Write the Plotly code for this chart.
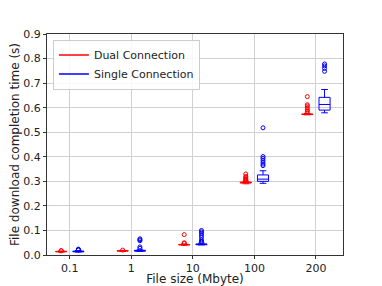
import plotly.graph_objects as go

sizes = ["0.1", "1", "10", "100", "200"]

# Dual Connection box statistics (s)
dual_lo = [0.012, 0.015, 0.040, 0.290, 0.571]
dual_q1 = [0.013, 0.016, 0.041, 0.293, 0.572]
dual_med = [0.014, 0.017, 0.042, 0.295, 0.573]
dual_q3 = [0.015, 0.018, 0.043, 0.297, 0.574]
dual_hi = [0.016, 0.019, 0.045, 0.300, 0.576]
dual_out = [
    [0.017, 0.018],
    [0.020],
    [0.047, 0.050, 0.083],
    [0.302, 0.305, 0.308, 0.311, 0.315, 0.320, 0.330],
    [0.580, 0.586, 0.592, 0.600, 0.607, 0.612, 0.645],
]

# Single Connection box statistics (s)
single_lo = [0.012, 0.015, 0.041, 0.292, 0.579]
single_q1 = [0.013, 0.016, 0.042, 0.300, 0.590]
single_med = [0.014, 0.017, 0.043, 0.309, 0.613]
single_q3 = [0.016, 0.019, 0.045, 0.326, 0.642]
single_hi = [0.018, 0.021, 0.048, 0.343, 0.674]
single_out = [
    [0.020, 0.022, 0.024],
    [0.027, 0.033, 0.058, 0.062, 0.066],
    [0.052, 0.056, 0.062, 0.072, 0.080, 0.088, 0.094, 0.100],
    [0.364, 0.370, 0.378, 0.386, 0.394, 0.401, 0.518],
    [0.748, 0.760, 0.770, 0.778],
]

RED = "#ff0000"
BLUE = "#0000ff"
OFF = 0.14
BW = 0.18

fig = go.Figure()

def add_series(lo, q1, med, q3, hi, outs, color, off, name):
    xs = [i + off for i in range(len(sizes))]
    fig.add_trace(go.Box(
        x=xs, lowerfence=lo, q1=q1, median=med, q3=q3, upperfence=hi,
        width=BW, boxpoints=False, line=dict(color=color, width=1),
        fillcolor="rgba(255,255,255,0)", whiskerwidth=0.6,
        showlegend=False, hoverinfo="skip",
    ))
    ox, oy = [], []
    for i, vals in enumerate(outs):
        for v in vals:
            ox.append(i + off)
            oy.append(v)
    fig.add_trace(go.Scatter(
        x=ox, y=oy, mode="markers",
        marker=dict(symbol="circle-open", size=4, color=color, line=dict(width=1, color=color)),
        showlegend=False, hoverinfo="skip",
    ))
    fig.add_trace(go.Scatter(
        x=[None], y=[None], mode="lines", line=dict(color=color, width=1.5), name=name,
    ))

add_series(dual_lo, dual_q1, dual_med, dual_q3, dual_hi, dual_out, RED, -OFF, "Dual Connection")
add_series(single_lo, single_q1, single_med, single_q3, single_hi, single_out, BLUE, OFF, "Single Connection")

fig.update_layout(
    width=374, height=278,
    margin=dict(l=39, r=39, t=26, b=31, autoexpand=False),
    paper_bgcolor="white", plot_bgcolor="white",
    font=dict(family="DejaVu Sans", size=11, color="#222"),
    showlegend=True,
    legend=dict(
        x=0.02, y=0.975, xanchor="left", yanchor="top",
        bordercolor="#cccccc", borderwidth=1, bgcolor="rgba(255,255,255,0.85)",
        font=dict(size=11), tracegroupgap=0, itemwidth=30,
    ),
)
fig.update_xaxes(
    automargin=True,
    range=[-0.37, 4.44], tickmode="array", tickvals=list(range(len(sizes))), ticktext=sizes,
    showgrid=True, gridcolor="#d0d0d0", gridwidth=1, zeroline=False,
    showline=True, linecolor="#333", linewidth=1, mirror=True,
    ticks="outside", ticklen=3, tickcolor="#333", tickfont=dict(size=11),
    title=dict(text="File size (Mbyte)", font=dict(size=12), standoff=3),
)
fig.update_yaxes(
    automargin=True,
    range=[0, 0.9], tickmode="array", tickvals=[i / 10 for i in range(10)],
    ticktext=[f"{i/10:.1f}" for i in range(10)],
    showgrid=True, gridcolor="#d0d0d0", gridwidth=1, zeroline=False,
    showline=True, linecolor="#333", linewidth=1, mirror=True,
    ticks="outside", ticklen=3, tickcolor="#333", tickfont=dict(size=11),
    title=dict(text="File download completion time (s)", font=dict(size=12), standoff=3),
)

fig.write_html("out.html")
